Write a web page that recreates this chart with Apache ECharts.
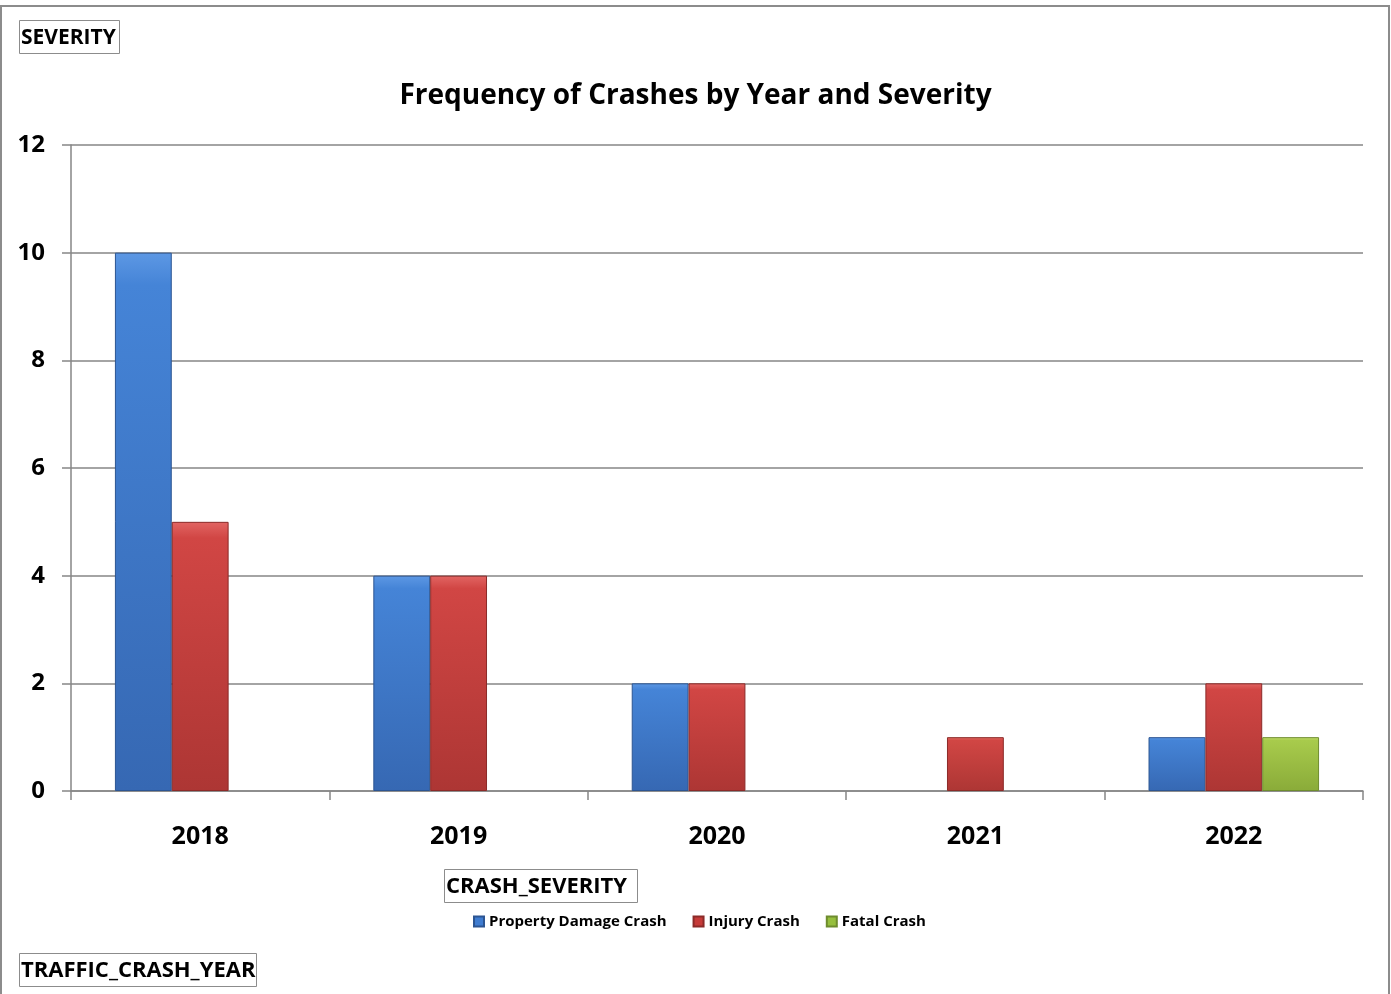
<!DOCTYPE html>
<html>
<head>
<meta charset="utf-8">
<script src="https://cdn.jsdelivr.net/npm/echarts@6/dist/echarts.min.js"></script>
<style>
html,body{margin:0;padding:0;background:#fff;}
#chart{width:1391px;height:994px;}
</style>
</head>
<body>
<div id="chart"></div>
<script>
var categories = ['2018', '2019', '2020', '2021', '2022'];
var propertyDamage = [10, 4, 2, null, 1];
var injury = [5, 4, 2, 1, 2];
var fatal = [null, null, null, null, 1];
var yTicks = {min: 0, max: 12, interval: 2};

var FONT = '"Open Sans"';

function grad(top, mid, bottom) {
  return new echarts.graphic.LinearGradient(0, 0, 0, 1, [
    {offset: 0, color: top},
    {offset: 0.06, color: mid},
    {offset: 1, color: bottom}
  ]);
}

var chart = echarts.init(document.getElementById('chart'));
chart.setOption({
  animation: false,
  backgroundColor: '#ffffff',
  title: {
    text: 'Frequency of Crashes by Year and Severity',
    left: 'center',
    top: 77,
    textStyle: {fontFamily: FONT, fontWeight: 'bold', fontSize: 28, color: '#000'}
  },
  legend: {
    left: 468,
    top: 909,
    itemWidth: 10,
    itemHeight: 10,
    itemGap: 26,
    textStyle: {fontFamily: FONT, fontWeight: 'bold', fontSize: 15, color: '#000'},
    data: [
      {name: 'Property Damage Crash', icon: 'rect', itemStyle: {color: '#3f7cd0'}},
      {name: 'Injury Crash', icon: 'rect', itemStyle: {color: '#c63a38'}},
      {name: 'Fatal Crash', icon: 'rect', itemStyle: {color: '#96bf3e'}}
    ]
  },
  grid: {left: 71, right: 28, top: 145, bottom: 203, containLabel: false},
  xAxis: {
    type: 'category',
    data: categories,
    axisLine: {lineStyle: {color: '#868686', width: 1.5}},
    axisTick: {show: true, length: 9, lineStyle: {color: '#868686', width: 1.5}},
    axisLabel: {fontFamily: FONT, fontWeight: 'bold', fontSize: 25, color: '#000', margin: 33}
  },
  yAxis: {
    type: 'value',
    min: yTicks.min, max: yTicks.max, interval: yTicks.interval,
    axisLine: {show: true, lineStyle: {color: '#868686', width: 1.5}},
    axisTick: {show: true, length: 9, lineStyle: {color: '#868686', width: 1.5}},
    splitLine: {lineStyle: {color: '#868686', width: 1.5}},
    axisLabel: {fontFamily: FONT, fontWeight: 'bold', fontSize: 24, color: '#000', margin: 26}
  },
  series: [
    {
      name: 'Property Damage Crash', type: 'bar', data: propertyDamage,
      barGap: '0%', barCategoryGap: '34%',
      itemStyle: {color: grad('#5d98e4', '#4584d7', '#3668b3'), borderColor: '#2c5592', borderWidth: 1}
    },
    {
      name: 'Injury Crash', type: 'bar', data: injury,
      barGap: '0%', barCategoryGap: '34%',
      itemStyle: {color: grad('#e26563', '#d14644', '#ad3634'), borderColor: '#8b2a28', borderWidth: 1}
    },
    {
      name: 'Fatal Crash', type: 'bar', data: fatal,
      barGap: '0%', barCategoryGap: '34%',
      itemStyle: {color: grad('#c4e06e', '#a8cb4c', '#8aab39'), borderColor: '#6e8c2e', borderWidth: 1}
    }
  ],
  graphic: [
    {type: 'rect', shape: {x: 1, y: 6, width: 1388, height: 1000}, style: {fill: 'none', stroke: '#8c8c8c', lineWidth: 2}, silent: true},
    {type: 'rect', shape: {x: 19.5, y: 20.5, width: 100, height: 33}, style: {fill: '#fff', stroke: '#8c8c8c', lineWidth: 1}},
    {type: 'text', style: {x: 21, y: 38, text: 'SEVERITY', font: 'bold 21px "Open Sans"', fill: '#000', verticalAlign: 'middle'}},
    {type: 'rect', shape: {x: 444.5, y: 869.5, width: 193, height: 33}, style: {fill: '#fff', stroke: '#8c8c8c', lineWidth: 1}},
    {type: 'text', style: {x: 446, y: 887, text: 'CRASH_SEVERITY', font: 'bold 22px "Open Sans"', fill: '#000', verticalAlign: 'middle'}},
    {type: 'rect', shape: {x: 19.5, y: 953.5, width: 237, height: 33}, style: {fill: '#fff', stroke: '#8c8c8c', lineWidth: 1}},
    {type: 'text', style: {x: 21, y: 971, text: 'TRAFFIC_CRASH_YEAR', font: 'bold 22px "Open Sans"', fill: '#000', verticalAlign: 'middle'}}
  ]
});
</script>
</body>
</html>
